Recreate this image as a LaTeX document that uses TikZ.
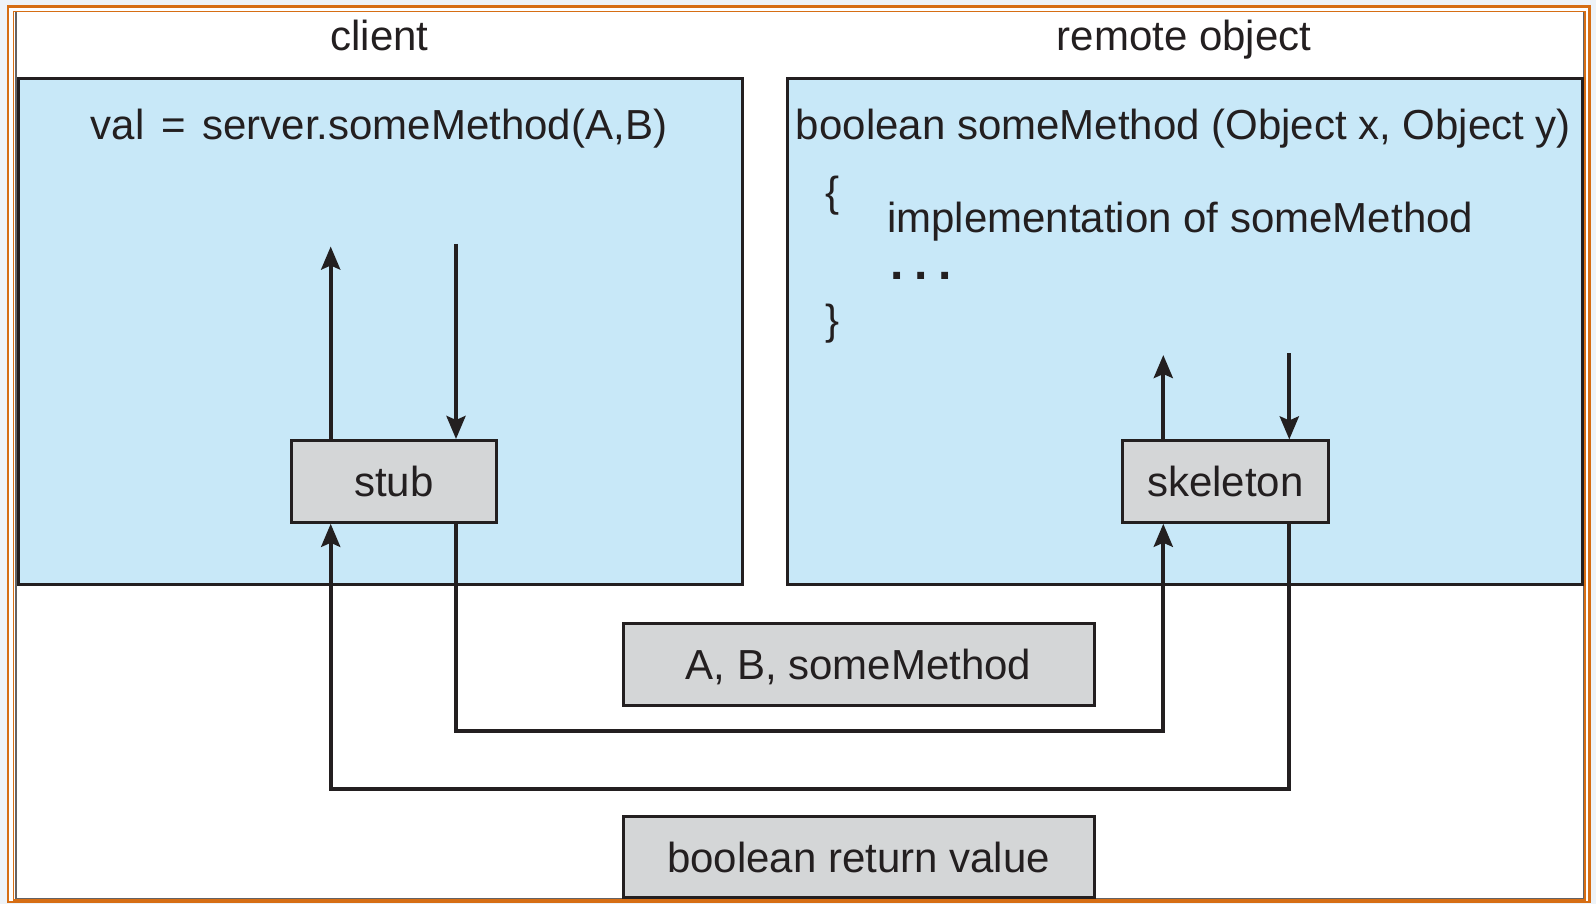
\documentclass[tikz,border=0pt]{standalone}
\usepackage{fontspec}
\setmainfont{Liberation Sans}
\usetikzlibrary{arrows.meta}
\definecolor{bgout}{RGB}{238,243,248}
\definecolor{frameor}{RGB}{214,110,20}
\definecolor{ink}{RGB}{35,31,32}
\definecolor{paneblue}{RGB}{200,232,248}
\definecolor{boxgray}{RGB}{212,214,215}
\tikzset{
  pane/.style={draw=ink, line width=3pt, fill=paneblue},
  graybox/.style={draw=ink, line width=3pt, fill=boxgray, inner sep=0pt, text=ink,
    text height=30.1pt, text depth=0pt, font=\fontsize{42}{50}\selectfont},
  lbl/.style={inner sep=0pt, text=ink, anchor=base, font=\fontsize{42}{50}\selectfont},
  arr/.style={draw=ink, line width=4pt, -{Stealth[length=23pt,width=19pt,inset=4pt]}},
  link/.style={draw=ink, line width=4pt}
}
\begin{document}
\begin{tikzpicture}[x=1pt,y=-1pt]
\useasboundingbox (0,0) rectangle (1596,904);
\fill[bgout] (0,0) rectangle (1596,904);
% outer frame
\draw[frameor, line width=2.5pt, fill=white] (8,6.5) rectangle (1589.5,901.8);
\draw[frameor, line width=1.5pt] (13.3,11.7) rectangle (1585,900);
\draw[ink!70, line width=1.5pt] (15.8,12.5) -- (15.8,898.5) -- (1583.5,898.5) -- (1583.5,12.5);
% panes
\draw[pane] (18.5,79) rectangle (742.5,584.5);
\draw[pane] (787,79) rectangle (1582.5,584.5);
% headings
\node[lbl] (hclient) at (379.5,51) {client};
\node[lbl] (hremote) at (1184,51) {remote object};
% code texts
\node[lbl] (call) at (379,140) {val\kern5pt{} =\kern5pt{} server.someMethod(A,B)};
\node[lbl] (sig) at (1183.5,140) {boolean someMethod (Object x, Object y)};
\node[lbl, anchor=base west] (lbr) at (825,207) {\{};
\node[lbl, anchor=base west] (impl) at (887,232.3) {implementation of someMethod};
\node[lbl, anchor=base west, font=\bfseries\fontsize{48}{56}\selectfont] (dots) at (890.6,279.3) {.\kern10.7pt.\kern10.7pt.};
\node[lbl, anchor=base west] (rbr) at (825,334.5) {\}};
% boxes
\node[graybox, minimum width=205pt, minimum height=81.8pt] (stub) at (394,481.4) {stub};
\node[graybox, minimum width=205.5pt, minimum height=81.3pt] (skel) at (1225.3,481.6) {skeleton};
\node[graybox, minimum width=471pt, minimum height=82pt] (args) at (858.5,664) {A, B, someMethod};
\node[graybox, minimum width=471pt, minimum height=80.5pt] (ret) at (858.5,857) {boolean return value};
% coordinates
\coordinate (sU) at (330.7,246.5);
\coordinate (sD) at (456,244);
\coordinate (kU) at (1163.3,355);
\coordinate (kD) at (1289.3,353);
\coordinate (r1) at (0,731);
\coordinate (r2) at (0,788.5);
% arrows in panes
\draw[arr] (stub.north -| sU) -- (sU);
\draw[arr] (sD) -- (stub.north -| sD);
\draw[arr] (skel.north -| kU) -- (kU);
\draw[arr] (kD) -- (skel.north -| kD);
% message paths
\draw[arr] (stub.south -| sD) -- (sD |- r1) -| (skel.south -| kU);
\draw[arr] (skel.south -| kD) -- (kD |- r2) -| (stub.south -| sU);
\end{tikzpicture}
\end{document}
